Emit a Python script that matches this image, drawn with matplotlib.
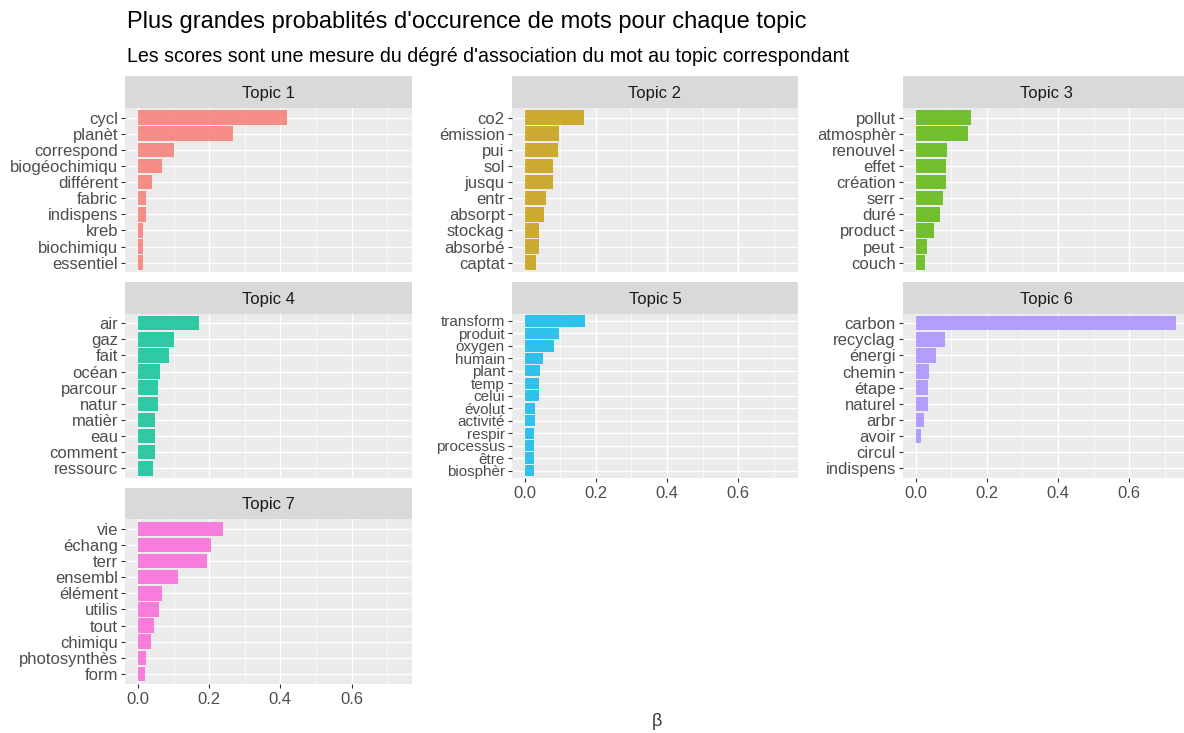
import matplotlib.pyplot as plt
import numpy as np

plt.rcParams['font.family'] = ['Liberation Sans', 'DejaVu Sans']

# top terms per topic (largest first) and their beta scores
topic1_terms = ["cycl", "planèt", "correspond", "biogéochimiqu", "différent",
                "fabric", "indispens", "kreb", "biochimiqu", "essentiel"]
topic1_beta = [0.420, 0.268, 0.100, 0.066, 0.040, 0.022, 0.022, 0.015, 0.015, 0.015]

topic2_terms = ["co2", "émission", "pui", "sol", "jusqu",
                "entr", "absorpt", "stockag", "absorbé", "captat"]
topic2_beta = [0.167, 0.097, 0.093, 0.079, 0.079, 0.059, 0.055, 0.040, 0.040, 0.033]

topic3_terms = ["pollut", "atmosphèr", "renouvel", "effet", "création",
                "serr", "duré", "product", "peut", "couch"]
topic3_beta = [0.155, 0.148, 0.088, 0.084, 0.084, 0.077, 0.069, 0.051, 0.033, 0.025]

topic4_terms = ["air", "gaz", "fait", "océan", "parcour",
                "natur", "matièr", "eau", "comment", "ressourc"]
topic4_beta = [0.171, 0.100, 0.086, 0.063, 0.056, 0.056, 0.049, 0.049, 0.049, 0.041]

topic5_terms = ["transform", "produit", "oxygen", "humain", "plant", "temp", "celui",
                "évolut", "activité", "respir", "processus", "être", "biosphèr"]
topic5_beta = [0.170, 0.096, 0.081, 0.052, 0.044, 0.040, 0.040,
               0.029, 0.029, 0.025, 0.025, 0.025, 0.025]

topic6_terms = ["carbon", "recyclag", "énergi", "chemin", "étape",
                "naturel", "arbr", "avoir", "circul", "indispens"]
topic6_beta = [0.732, 0.081, 0.056, 0.037, 0.034, 0.034, 0.022, 0.014, 0.0005, 0.0003]

topic7_terms = ["vie", "échang", "terr", "ensembl", "élément",
                "utilis", "tout", "chimiqu", "photosynthès", "form"]
topic7_beta = [0.238, 0.204, 0.194, 0.111, 0.066, 0.059, 0.045, 0.037, 0.022, 0.019]

topic_names = ["Topic 1", "Topic 2", "Topic 3", "Topic 4", "Topic 5", "Topic 6", "Topic 7"]
all_terms = [topic1_terms, topic2_terms, topic3_terms, topic4_terms,
             topic5_terms, topic6_terms, topic7_terms]
all_beta = [topic1_beta, topic2_beta, topic3_beta, topic4_beta,
            topic5_beta, topic6_beta, topic7_beta]

# ggplot default hue palette for 7 levels
colors = ["#F8766D", "#C49A00", "#53B400", "#00C094", "#00B6EB", "#A58AFF", "#FB61D7"]

W, H = 1184, 733
fig = plt.figure(figsize=(W / 100, H / 100), dpi=100)

# panel geometry in pixels
col_left = [125, 511.7, 902.7]
panel_w = 286.5
row_strip_top = [76.4, 282.0, 487.6]
strip_h = 31.5
panel_h = 164.5

xmax = max(max(b) for b in all_beta)
xlim = (-0.05 * xmax, 1.05 * xmax)

grey30 = "#4D4D4D"
grey20 = "#333333"
lab_size = 12

for k, (name, terms, beta) in enumerate(zip(topic_names, all_terms, all_beta)):
    row, col = divmod(k, 3)
    left = col_left[col]
    top = row_strip_top[row]
    # strip
    sax = fig.add_axes([left / W, 1 - (top + strip_h) / H, panel_w / W, strip_h / H])
    sax.set_facecolor("#D9D9D9")
    sax.set_xticks([])
    sax.set_yticks([])
    for s in sax.spines.values():
        s.set_visible(False)
    sax.text(0.5, 0.45, name, ha="center", va="center", fontsize=lab_size,
             color="#1A1A1A", transform=sax.transAxes)

    # panel
    ptop = top + strip_h
    ax = fig.add_axes([left / W, 1 - (ptop + panel_h) / H, panel_w / W, panel_h / H])
    ax.set_facecolor("#EBEBEB")
    n = len(terms)
    y = np.arange(n)[::-1]
    ax.barh(y, beta, height=0.9, color=colors[k], alpha=0.8, linewidth=0)
    ax.set_xlim(*xlim)
    ax.set_ylim(-0.6, n - 0.4)
    ax.set_yticks(y)
    ax.set_yticklabels(terms)
    ax.set_xticks([0.0, 0.2, 0.4, 0.6])
    ax.set_xticks([0.1, 0.3, 0.5, 0.7], minor=True)
    ax.set_xticklabels(["0.0", "0.2", "0.4", "0.6"])
    ax.set_axisbelow(True)
    ax.grid(which="major", color="white", linewidth=0.95)
    ax.grid(which="minor", axis="x", color="white", linewidth=0.5)
    for s in ax.spines.values():
        s.set_visible(False)
    # topic 5 has 13 terms, labels are packed tighter
    ysize = lab_size - 1 if n > 10 else lab_size
    ax.tick_params(axis="y", length=3, width=0.8, color=grey20, labelsize=ysize,
                   labelcolor=grey30, pad=2)
    ax.tick_params(axis="x", which="minor", length=0)
    if k >= 4:
        ax.tick_params(axis="x", which="major", length=3, width=0.8, color=grey20,
                       labelsize=lab_size, labelcolor=grey30, pad=3)
    else:
        ax.tick_params(axis="x", which="major", length=0, labelbottom=False)

fig.text(127 / W, 1 - 22 / H, "Plus grandes probablités d'occurence de mots pour chaque topic",
         fontsize=17, color="black", ha="left", va="center")
fig.text(127 / W, 1 - 57 / H,
         "Les scores sont une mesure du dégré d'association du mot au topic correspondant",
         fontsize=14.1, color="black", ha="left", va="center")
fig.text(657 / W, 1 - 722 / H, "β", fontsize=13, color=grey20, ha="center", va="center")

fig.savefig("out.png", dpi=100)
